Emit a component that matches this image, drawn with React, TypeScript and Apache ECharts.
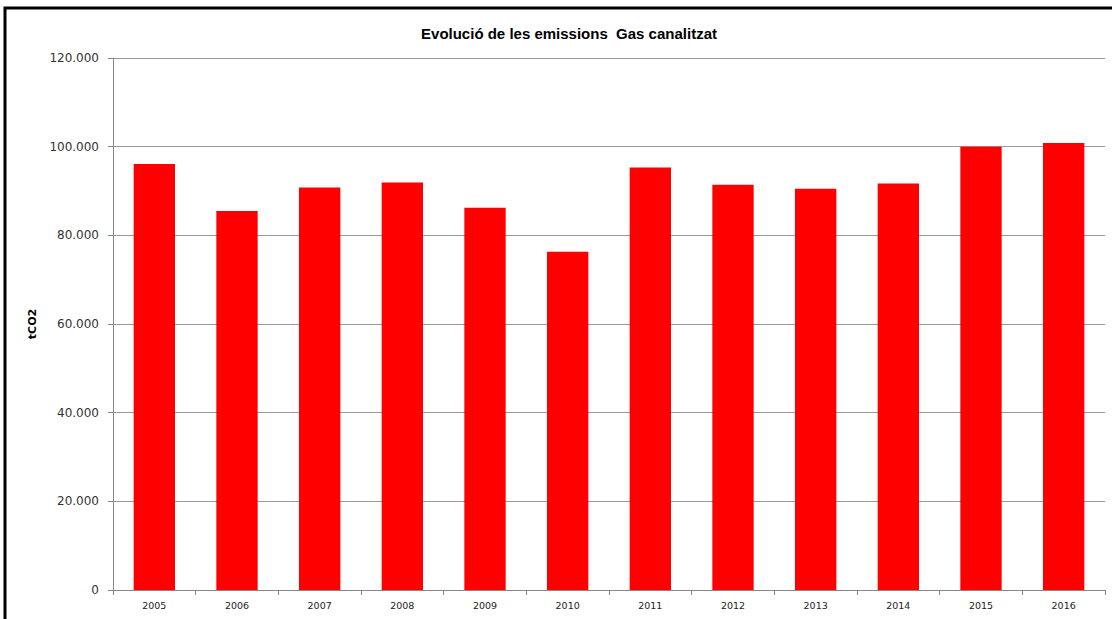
import React, { useEffect, useRef } from "react";
import * as echarts from "echarts";

const years = ["2005", "2006", "2007", "2008", "2009", "2010", "2011", "2012", "2013", "2014", "2015", "2016"];
const emissions = [96100, 85500, 90800, 91900, 86200, 76300, 95300, 91400, 90500, 91700, 100000, 100800];
const chartTitle = "Evolució de les emissions  Gas canalitzat";
const yName = "tCO2";

function fmt(v: number): string {
  return String(v).replace(/\B(?=(\d{3})+(?!\d))/g, ".");
}

export default function App() {
  const ref = useRef<HTMLDivElement>(null);
  useEffect(() => {
    if (!ref.current) return;
    const chart = echarts.init(ref.current, undefined, { renderer: "svg" });
    chart.setOption({
      animation: false,
      backgroundColor: "#ffffff",
      title: {
        text: chartTitle,
        left: 564,
        textAlign: "center",
        top: 21,
        textStyle: { fontFamily: "Liberation Sans, Arial", fontSize: 15, fontWeight: "bold", color: "#000" },
      },
      graphic: [
        {
          type: "rect",
          shape: { x: 5, y: 8, width: 1200, height: 700 },
          style: { fill: "none", stroke: "#000", lineWidth: 3 },
          silent: true,
        },
      ],
      grid: { left: 113, right: 7, top: 58, bottom: 29, containLabel: false },
      xAxis: {
        type: "category",
        data: years,
        boundaryGap: true,
        axisLine: { lineStyle: { color: "#888", width: 1 } },
        axisTick: { show: true, alignWithLabel: false, length: 5, lineStyle: { color: "#888" } },
        axisLabel: { fontFamily: "DejaVu Sans", fontSize: 9.5, color: "#222", margin: 10 },
      },
      yAxis: {
        type: "value",
        min: 0,
        max: 120000,
        interval: 20000,
        name: yName,
        nameLocation: "middle",
        nameGap: 72,
        nameRotate: 90,
        nameTextStyle: { fontFamily: "DejaVu Sans", fontSize: 11, fontWeight: "bold", color: "#000" },
        axisLine: { show: true, lineStyle: { color: "#888", width: 1 } },
        axisTick: { show: true, length: 5, inside: false, lineStyle: { color: "#888" } },
        axisLabel: { fontFamily: "DejaVu Sans", fontSize: 12, color: "#333", margin: 14, formatter: (v: number) => fmt(v) },
        splitLine: { show: true, lineStyle: { color: "#999", width: 1 } },
      },
      series: [
        {
          type: "bar",
          data: emissions,
          barWidth: "50%",
          itemStyle: { color: "#ff0000" },
        },
      ],
    });
    return () => chart.dispose();
  }, []);
  return <div ref={ref} style={{ position: "fixed", left: 0, top: 0, width: 1112, height: 619 }} />;
}
